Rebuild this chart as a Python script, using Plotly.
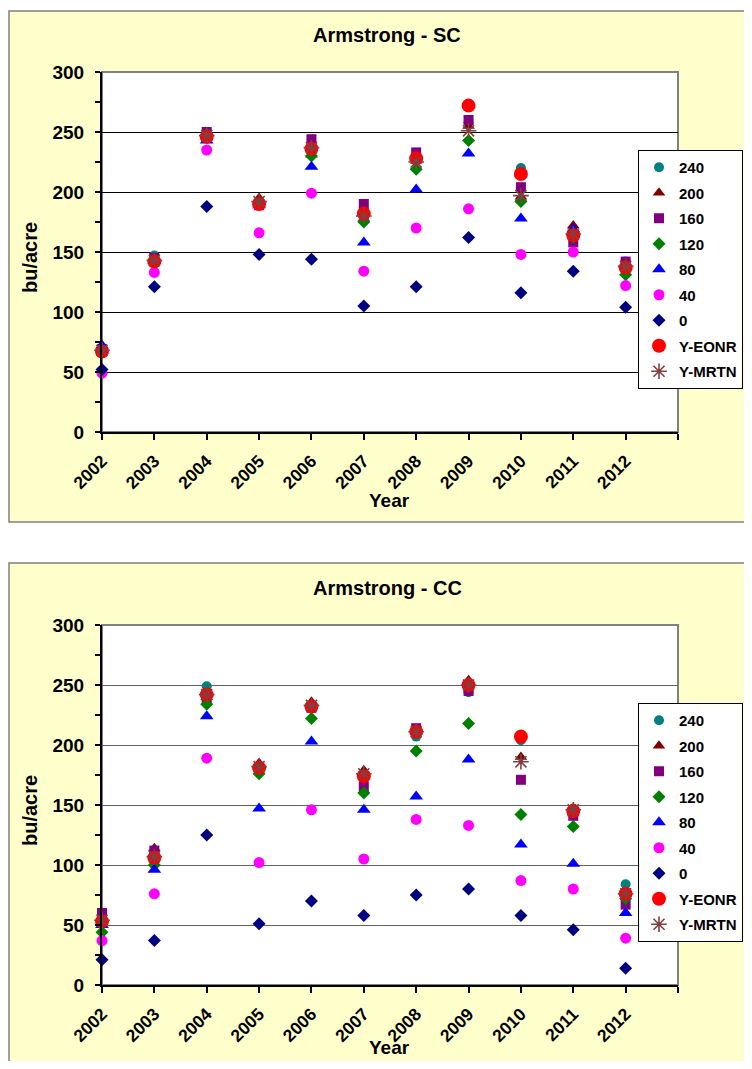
import plotly.graph_objects as go

# ---------------- data ----------------
years = [2002, 2003, 2004, 2005, 2006, 2007, 2008, 2009, 2010, 2011, 2012]
tick_labels = ["2002", "2003", "2004", "2005", "2006", "2007", "2008", "2009", "2010", "2011", "2012"]
series_names = ["240", "200", "160", "120", "80", "40", "0", "Y-EONR", "Y-MRTN"]

# Armstrong - SC
sc_240 = [70, 147, 245, 191, 236, 183, 228, 258, 220, 163, 142]
sc_200 = [70, 144, 246, 195, 231, 178, 226, 255, 196, 172, 139]
sc_160 = [69, 145, 250, 189, 244, 190, 233, 260, 204, 158, 142]
sc_120 = [68, 143, 248, 190, 230, 175, 219, 243, 192, 162, 131]
sc_80 = [72, 143, 243, 189, 221, 158, 202, 232, 178, 169, 138]
sc_40 = [49, 133, 235, 166, 199, 134, 170, 186, 148, 150, 122]
sc_0 = [52, 121, 188, 148, 144, 105, 121, 162, 116, 134, 104]
sc_eonr = [67, 142, 246, 190, 236, 182, 228, 272, 215, 164, 137]
sc_mrtn = [68, 143, 247, 192, 237, 180, 225, 251, 197, 165, 138]

# Armstrong - CC
cc_240 = [55, 103, 249, 180, 232, 172, 207, 244, 204, 147, 84]
cc_200 = [55, 114, 240, 185, 236, 179, 212, 254, 190, 143, 78]
cc_160 = [60, 112, 237, 180, 231, 165, 214, 245, 171, 141, 67]
cc_120 = [44, 100, 234, 176, 222, 160, 195, 218, 142, 132, 72]
cc_80 = [50, 96, 224, 147, 203, 146, 157, 188, 117, 101, 60]
cc_40 = [37, 76, 189, 102, 146, 105, 138, 133, 87, 80, 39]
cc_0 = [21, 37, 125, 51, 70, 58, 75, 80, 58, 46, 14]
cc_eonr = [53, 106, 242, 181, 232, 174, 211, 250, 207, 145, 76]
cc_mrtn = [54, 107, 242, 182, 233, 176, 211, 250, 186, 146, 76]

sc_series = [sc_240, sc_200, sc_160, sc_120, sc_80, sc_40, sc_0, sc_eonr, sc_mrtn]
cc_series = [cc_240, cc_200, cc_160, cc_120, cc_80, cc_40, cc_0, cc_eonr, cc_mrtn]

# ---------------- styles ----------------
marker_styles = [
    dict(symbol="circle", color="#008080", size=10),
    dict(symbol="triangle-up", color="#800000", size=11),
    dict(symbol="square", color="#800080", size=10),
    dict(symbol="diamond", color="#008000", size=10),
    dict(symbol="triangle-up", color="#0000FF", size=12),
    dict(symbol="circle", color="#FF00FF", size=11),
    dict(symbol="diamond", color="#000080", size=10),
    dict(symbol="circle", color="#FF0000", size=14),
    dict(symbol="asterisk-open", color="#804040", size=13),
]

FONT = "Arial, Liberation Sans, sans-serif"
# page has an 8px body margin: the figure is 736x1053 placed at (8, 8)
W, H, OFF = 736, 1053, 8


def px(x):
    return (x - OFF) / W


def py(y):
    return 1 - (y - OFF) / H


fig = go.Figure()

for panel, data, xa, ya, lg in [(0, sc_series, "x", "y", "legend"), (1, cc_series, "x2", "y2", "legend2")]:
    for name, vals, st in zip(series_names, data, marker_styles):
        if st["symbol"].endswith("open"):
            mk = dict(symbol=st["symbol"], size=st["size"], color=st["color"],
                      line=dict(color=st["color"], width=1.6))
        else:
            mk = dict(symbol=st["symbol"], size=st["size"], color=st["color"], line=dict(width=0))
        fig.add_trace(go.Scatter(
            x=years, y=vals, mode="markers", name=name, marker=mk,
            xaxis=xa, yaxis=ya, legend=lg, legendgroup=f"{lg}_{name}",
            cliponaxis=False, showlegend=True,
        ))

tickfont_x = dict(family=FONT, size=17.5, color="black", weight="bold")
tickfont_y = dict(family=FONT, size=19, color="black", weight="bold")


def xaxis_cfg(anchor):
    return dict(
        domain=[px(102), px(678)], anchor=anchor, range=[2002, 2013], automargin=False,
        tickmode="array", tickvals=years + [2013], ticktext=tick_labels + [""],
        tickangle=-45, ticks="outside", ticklen=6, tickwidth=2, tickcolor="black",
        ticklabelstandoff=4,
        showline=True, linecolor="black", linewidth=2, showgrid=False, zeroline=False,
        tickfont=tickfont_x,
    )


def yaxis_cfg(anchor, dom, gridcolor):
    return dict(
        domain=dom, anchor=anchor, range=[0, 300], dtick=50, tick0=0, automargin=False,
        ticks="outside", ticklen=5, tickwidth=2, tickcolor="black",
        ticklabelstandoff=7,
        showline=True, linecolor="black", linewidth=2,
        showgrid=True, gridcolor=gridcolor, gridwidth=1, zeroline=False,
        minor=dict(dtick=25, tick0=0, ticks="outside", ticklen=5, tickwidth=2,
                   tickcolor="black", showgrid=False),
        tickfont=tickfont_y,
    )


shapes = []
for top, bot in [(11, 522), (563, 1090)]:
    shapes.append(dict(type="rect", xref="paper", yref="paper", layer="below",
                       x0=px(9), x1=px(790), y0=py(bot), y1=py(top),
                       fillcolor="#FFFFCC", line=dict(color="#808080", width=1.5)))
for top, bot in [(72, 432), (625, 985)]:
    shapes.append(dict(type="rect", xref="paper", yref="paper", layer="below",
                       x0=px(102), x1=px(678), y0=py(bot), y1=py(top),
                       fillcolor="white", line=dict(color="#808080", width=2)))

annotations = []
for title, ty, cy in [("Armstrong - SC", 35, 258), ("Armstrong - CC", 588, 811)]:
    annotations.append(dict(text=title, xref="paper", yref="paper", x=px(387), y=py(ty),
                            xanchor="center", yanchor="middle", showarrow=False,
                            font=dict(family=FONT, size=20, color="black", weight="bold")))
    annotations.append(dict(text="bu/acre", xref="paper", yref="paper", x=px(30), y=py(cy),
                            xanchor="center", yanchor="middle", showarrow=False, textangle=-90,
                            font=dict(family=FONT, size=20, color="black", weight="bold")))
annotations.append(dict(text="Year", xref="paper", yref="paper", x=px(389), y=py(500),
                        xanchor="center", yanchor="middle", showarrow=False,
                        font=dict(family=FONT, size=19, color="black", weight="bold")))
annotations.append(dict(text="Year", xref="paper", yref="paper", x=px(389), y=py(1060),
                        xanchor="center", yanchor="bottom", showarrow=False,
                        font=dict(family=FONT, size=19, color="black", weight="bold")))

legend_common = dict(xanchor="left", yanchor="top", bgcolor="white", bordercolor="black",
                     borderwidth=1, font=dict(family=FONT, size=15, color="black", weight="bold"),
                     tracegroupgap=3)

fig.update_layout(
    template="none",
    width=W, height=H, margin=dict(l=0, r=0, t=0, b=0, pad=0, autoexpand=False),
    paper_bgcolor="white", plot_bgcolor="rgba(0,0,0,0)",
    xaxis=xaxis_cfg("y"), yaxis=yaxis_cfg("x", [py(432), py(72)], "black"),
    xaxis2=xaxis_cfg("y2"), yaxis2=yaxis_cfg("x2", [py(985), py(625)], "#606060"),
    legend=dict(x=px(638), y=py(150), **legend_common),
    legend2=dict(x=px(638), y=py(703), **legend_common),
    shapes=shapes, annotations=annotations,
    font=dict(family=FONT, color="black"),
)

fig.write_html("out.html")
